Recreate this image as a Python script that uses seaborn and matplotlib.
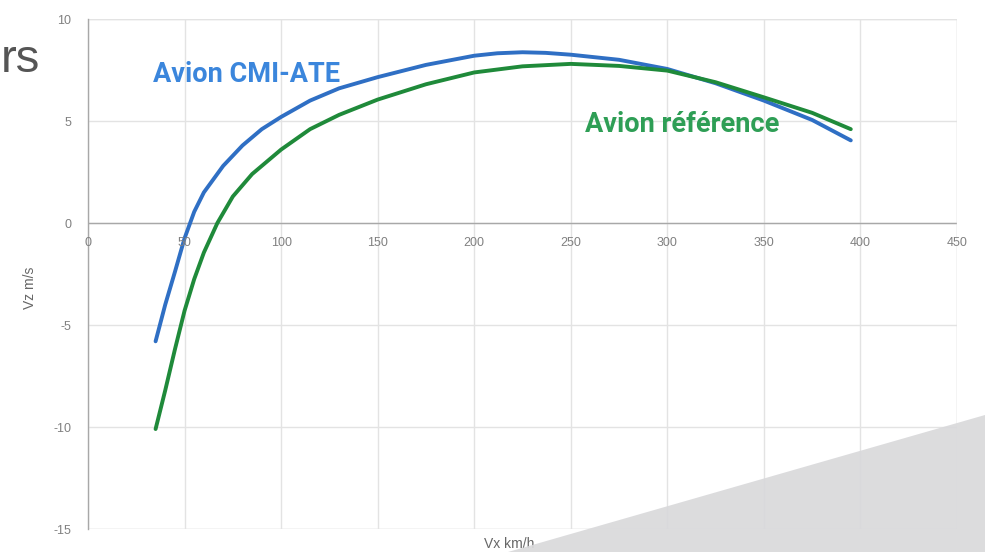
import numpy as np
import pandas as pd
import matplotlib
matplotlib.use("Agg")
import matplotlib.pyplot as plt
import seaborn as sns
from matplotlib.patches import Polygon

# ---- data ----
cmi_x = [35, 40, 45, 50, 55, 60, 70, 80, 90, 100, 115, 130, 150, 175, 200, 212, 225, 237, 250, 275, 300, 325, 350, 375, 395]
cmi_y = [-5.8, -4.0, -2.4, -0.75, 0.55, 1.5, 2.8, 3.8, 4.6, 5.2, 6.0, 6.6, 7.15, 7.75, 8.2, 8.32, 8.37, 8.34, 8.25, 8.0, 7.55, 6.85, 6.0, 5.05, 4.05]

ref_x = [35, 40, 45, 50, 55, 60, 67, 75, 85, 100, 115, 130, 150, 175, 200, 225, 250, 275, 300, 325, 350, 375, 395]
ref_y = [-10.1, -8.2, -6.2, -4.3, -2.75, -1.45, 0.0, 1.3, 2.4, 3.6, 4.6, 5.3, 6.05, 6.8, 7.38, 7.68, 7.8, 7.7, 7.47, 6.9, 6.16, 5.4, 4.6]

x_ticks = [0, 50, 100, 150, 200, 250, 300, 350, 400, 450]
y_ticks = [-15, -10, -5, 0, 5, 10]

series_names = ["Avion CMI-ATE", "Avion référence"]
x_label = "Vx km/h"
y_label = "Vz m/s"

df = pd.concat([
    pd.DataFrame({"Vx": cmi_x, "Vz": cmi_y, "serie": series_names[0]}),
    pd.DataFrame({"Vx": ref_x, "Vz": ref_y, "serie": series_names[1]}),
])

sns.set_style("white")
plt.rcParams["font.family"] = ["Liberation Sans", "DejaVu Sans"]
plt.rcParams["axes.unicode_minus"] = False

fig = plt.figure(figsize=(9.85, 5.52), dpi=100)
ax = fig.add_axes([88 / 985, 1 - 529 / 552, (957 - 88) / 985, (529 - 19) / 552])

palette = {series_names[0]: "#2f6fc4", series_names[1]: "#1f8a3a"}
sns.lineplot(data=df, x="Vx", y="Vz", hue="serie", palette=palette, sort=False,
             linewidth=2.8, legend=False, ax=ax, zorder=3)
for ln in ax.get_lines():
    ln.set_solid_joinstyle("round")
    ln.set_solid_capstyle("round")

ax.set_xlim(0, 450)
ax.set_ylim(-15, 10)
ax.set_xticks(x_ticks)
ax.set_yticks(y_ticks)
ax.grid(True, color="#e3e3e3", linewidth=1.0, zorder=0)
ax.set_axisbelow(True)
for s in ["top", "right"]:
    ax.spines[s].set_visible(False)
ax.spines["bottom"].set_visible(False)
ax.spines["left"].set_color("#a8a8a8")
ax.spines["left"].set_linewidth(1.0)
ax.axhline(0, color="#a8a8a8", linewidth=1.0, zorder=1)
ax.axhline(-15, color="#e3e3e3", linewidth=1.0, zorder=1)
ax.axhline(10, color="#e3e3e3", linewidth=1.0, zorder=1)
ax.axvline(450, color="#e3e3e3", linewidth=1.0, zorder=1)

ax.tick_params(axis="both", length=0, labelsize=9, labelcolor="#808080")
ax.tick_params(axis="y", pad=12)
ax.set_xticklabels([])
for xv in x_ticks:
    ax.annotate(str(xv), xy=(xv, 0), xycoords="data", xytext=(0, -14.5), textcoords="offset points",
                ha="center", va="center", fontsize=9, color="#808080")
ax.set_xlabel("")
ax.set_ylabel("")

fig.text(30 / 985, 1 - 288 / 552, y_label, rotation=90, ha="center", va="center",
         fontsize=10, color="#666666")
fig.text(509 / 985, 1 - 544 / 552, x_label, ha="center", va="center",
         fontsize=10, color="#666666")

fig.text(153 / 985, 1 - 74 / 552, series_names[0], color="#3b86dc", fontsize=19.5, fontweight="bold",
         family=["Roboto", "DejaVu Sans"], ha="left", va="center")
fig.text(585 / 985, 1 - 125 / 552, series_names[1], color="#2e9e55", fontsize=19.5, fontweight="bold",
         family=["Roboto", "DejaVu Sans"], ha="left", va="center")

# cropped slide title fragment
fig.text(0.5 / 985, 1 - 60 / 552, "rs", ha="left", va="center", fontsize=34, color="#555555")

# slide decoration triangle
tri = Polygon([(508 / 985, 0), (1.0, 0), (1.0, 1 - 415 / 552)], closed=True,
              transform=fig.transFigure, facecolor="#d9d9db", edgecolor="none", alpha=0.92, zorder=10)
fig.patches.append(tri)

fig.savefig("out.png", dpi=100)
